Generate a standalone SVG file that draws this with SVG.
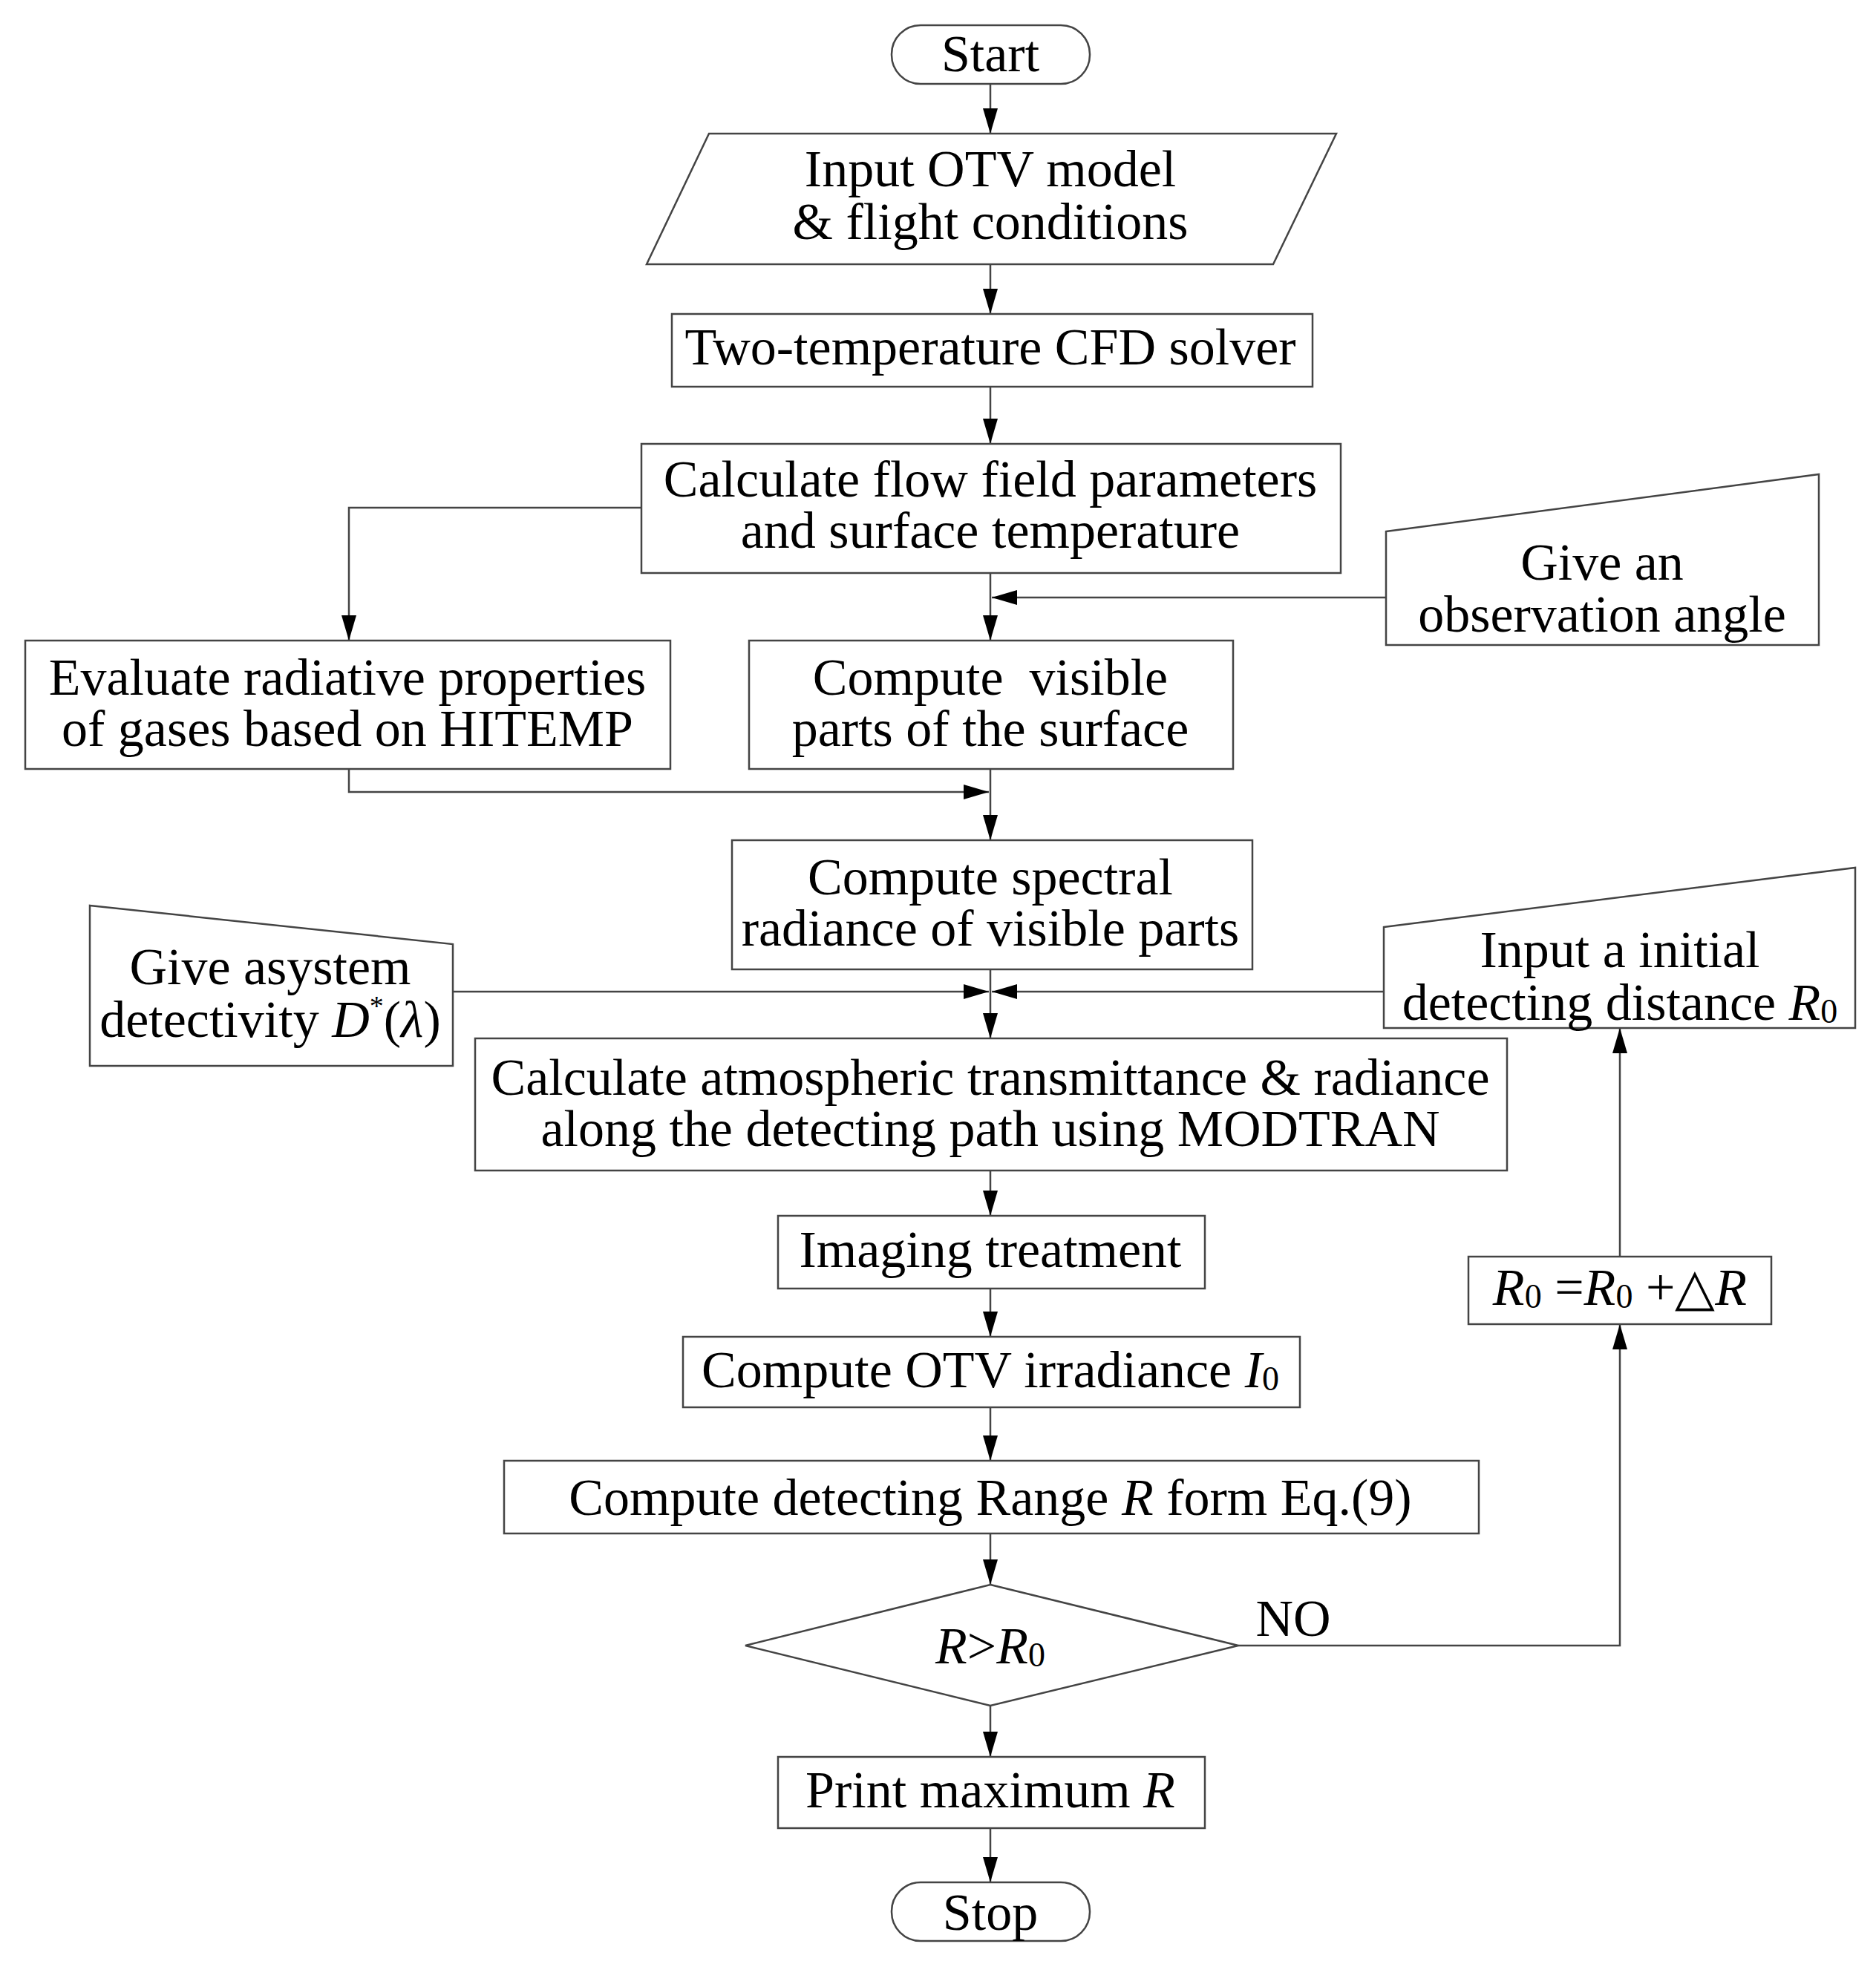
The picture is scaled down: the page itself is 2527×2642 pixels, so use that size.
<svg xmlns="http://www.w3.org/2000/svg" width="2527" height="2642" viewBox="0 0 2527 2642">
<defs>
<marker id="ah" viewBox="0 0 34 20" refX="34" refY="10" markerWidth="34" markerHeight="20" markerUnits="userSpaceOnUse" orient="auto"><path d="M0,0 L34,10 L0,20 Z" fill="#000"/></marker>
</defs>
<style>
text{font-family:"Liberation Serif","Times New Roman",serif;font-size:70px;fill:#000;text-anchor:middle;dominant-baseline:central}
.s{fill:#fff;stroke:#444;stroke-width:2.5}
.c{fill:none;stroke:#444;stroke-width:2.5}
.i{font-style:italic}
.sub{font-size:46px}
</style>
<rect width="2527" height="2642" fill="#fff"/>
<g id="connectors">
<path class="c" d="M1334,113 V180" marker-end="url(#ah)"/>
<path class="c" d="M1334,356 V423" marker-end="url(#ah)"/>
<path class="c" d="M1334,521 V598" marker-end="url(#ah)"/>
<path class="c" d="M864,684 H470 V863" marker-end="url(#ah)"/>
<path class="c" d="M1334,772 V863" marker-end="url(#ah)"/>
<path class="c" d="M1867,805 H1336" marker-end="url(#ah)"/>
<path class="c" d="M470,1036 V1067 H1332" marker-end="url(#ah)"/>
<path class="c" d="M1334,1036 V1132" marker-end="url(#ah)"/>
<path class="c" d="M1334,1306 V1399" marker-end="url(#ah)"/>
<path class="c" d="M610,1336 H1332" marker-end="url(#ah)"/>
<path class="c" d="M1864,1336 H1336" marker-end="url(#ah)"/>
<path class="c" d="M1334,1577 V1638" marker-end="url(#ah)"/>
<path class="c" d="M1334,1736 V1801" marker-end="url(#ah)"/>
<path class="c" d="M1334,1896 V1968" marker-end="url(#ah)"/>
<path class="c" d="M1334,2066 V2135" marker-end="url(#ah)"/>
<path class="c" d="M1668,2217 H2182 V1784" marker-end="url(#ah)"/>
<path class="c" d="M2182,1693 V1385" marker-end="url(#ah)"/>
<path class="c" d="M1334,2298 V2367" marker-end="url(#ah)"/>
<path class="c" d="M1334,2463 V2536" marker-end="url(#ah)"/>
<text x="1742" y="2180">NO</text>
</g>
<g id="start"><rect class="s" x="1201" y="34" width="267" height="79" rx="39"/><text x="1334" y="72">Start</text></g>
<g id="input"><path class="s" d="M955,180 H1800 L1715,356 H871 Z"/><text x="1334" y="227">Input OTV model</text><text x="1334" y="298">&amp; flight conditions</text></g>
<g id="cfd"><rect class="s" x="905" y="423" width="863" height="98"/><text x="1334" y="467">Two-temperature CFD solver</text></g>
<g id="flow"><rect class="s" x="864" y="598" width="942" height="174"/><text x="1334" y="645">Calculate flow field parameters</text><text x="1334" y="714">and surface temperature</text></g>
<g id="angle"><path class="s" d="M1867,716 L2450,639 V869 H1867 Z"/><text x="2158" y="757">Give an</text><text x="2158" y="827">observation angle</text></g>
<g id="evaluate"><rect class="s" x="34" y="863" width="869" height="173"/><text x="468" y="912">Evaluate radiative properties</text><text x="468" y="981">of gases based on HITEMP</text></g>
<g id="visible"><rect class="s" x="1009" y="863" width="652" height="173"/><text x="1334" y="912" xml:space="preserve">Compute  visible</text><text x="1334" y="981">parts of the surface</text></g>
<g id="spectral"><rect class="s" x="986" y="1132" width="701" height="174"/><text x="1334" y="1181">Compute spectral</text><text x="1334" y="1250">radiance of visible parts</text></g>
<g id="detectivity"><path class="s" d="M121,1220 L610,1272 V1436 H121 Z"/><text x="364" y="1302">Give asystem</text><text x="364" y="1373">detectivity <tspan class="i">D</tspan><tspan dy="-18" font-size="38">*</tspan><tspan dy="18">(</tspan><tspan class="i">λ</tspan>)</text></g>
<g id="initial"><path class="s" d="M1864,1249 L2499,1169 V1385 H1864 Z"/><text x="2182" y="1279">Input a initial</text><text x="2182" y="1350">detecting distance <tspan class="i">R</tspan><tspan class="sub" dy="12">0</tspan></text></g>
<g id="modtran"><rect class="s" x="640" y="1399" width="1390" height="178"/><text x="1334" y="1451">Calculate atmospheric transmittance &amp; radiance</text><text x="1334" y="1520">along the detecting path using MODTRAN</text></g>
<g id="imaging"><rect class="s" x="1048" y="1638" width="575" height="98"/><text x="1334" y="1683">Imaging treatment</text></g>
<g id="irradiance"><rect class="s" x="920" y="1801" width="831" height="95"/><text x="1334" y="1845">Compute OTV irradiance <tspan class="i">I</tspan><tspan class="sub" dy="12">0</tspan></text></g>
<g id="range"><rect class="s" x="679" y="1968" width="1313" height="98"/><text x="1334" y="2017">Compute detecting Range <tspan class="i">R</tspan> form Eq.(9)</text></g>
<g id="decision"><path class="s" d="M1334,2135 L1668,2217 L1334,2298 L1004,2217 Z"/><text x="1334" y="2217"><tspan class="i">R</tspan>&gt;<tspan class="i">R</tspan><tspan class="sub" dy="12">0</tspan></text></g>
<g id="increment"><rect class="s" x="1978" y="1693" width="408" height="91"/><text x="2182" y="1734"><tspan class="i">R</tspan><tspan class="sub" dy="12">0</tspan><tspan dy="-12"> =</tspan><tspan class="i">R</tspan><tspan class="sub" dy="12">0</tspan><tspan dy="-12"> +△</tspan><tspan class="i">R</tspan></text></g>
<g id="print"><rect class="s" x="1048" y="2367" width="575" height="96"/><text x="1334" y="2411">Print maximum <tspan class="i">R</tspan></text></g>
<g id="stop"><rect class="s" x="1201" y="2536" width="267" height="79" rx="39"/><text x="1334" y="2576">Stop</text></g>
</svg>
